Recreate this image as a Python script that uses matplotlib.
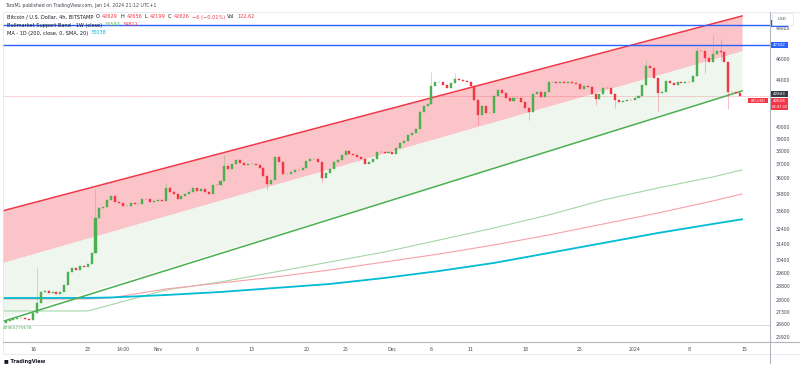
import numpy as np
import matplotlib.pyplot as plt
from matplotlib.patches import Rectangle
from matplotlib.lines import Line2D
from matplotlib.ticker import NullLocator

W, H = 800, 370

# 12h candles, closes
start = np.datetime64('2023-10-12T12:00')
first_open = 26700
closes = [
    26800, 26845, 26880, 26930, 26956, 26900, 26850, 27230, 27800, 28440,
    28470, 28380, 28410, 28320, 28440, 28850, 29640, 29880, 29760, 30000,
    29940, 30120, 30820, 33100, 33820, 33890, 34380, 34670, 34240, 34170,
    33960, 33990, 34170, 34100, 34130, 34450, 34420, 34240, 34310, 34380,
    34310, 35240, 34950, 34810, 34450, 34670, 34810, 34950, 35240, 35020,
    35170, 34950, 34810, 35460, 35430, 35750, 36880, 36650, 37030, 37340,
    37110, 36950, 37030, 37060, 36950, 36730, 36120, 35530, 35830, 37570,
    37180, 36270, 36300, 36420, 36575, 36540, 36730, 37260, 37410, 37440,
    37180, 35980, 36350, 36650, 37180, 37340, 37720, 38030, 37800, 37720,
    37570, 37410, 37030, 37180, 37410, 37960, 37930, 37880, 37960, 37800,
    38270, 38670, 38830, 39310, 39470, 39800, 41220, 41730, 41900, 43490,
    43850, 43880, 43580, 43310, 43760, 44120, 44030, 43940, 43850, 43490,
    42250, 40960, 41730, 41130, 41160, 42600, 43130, 42860, 42430, 42160,
    42430, 42400, 42080, 41560, 41220, 42780, 42950, 42510, 42950, 43850,
    43880, 43760, 43850, 43760, 43850, 43760, 43670, 43220, 43490, 43400,
    42780, 42340, 42780, 43310, 43280, 42780, 42250, 42080, 42160, 42250,
    42220, 42430, 42600, 43580, 45320, 45130, 44210, 42860, 42950, 43940,
    43760, 43580, 43850, 43760, 43850, 43820, 44400, 46740, 46700, 46080,
    45700, 46450, 46740, 46640, 45700, 42950, 42920, 42860, 42626,
]
# notable wicks: candle index, high, low
wick_idx = [8, 23, 41, 56, 67, 81, 109, 115, 121, 134, 151, 156, 164, 167, 177, 179, 181, 183, 185]
wick_hi = [29900, 35200, 35600, 37720, 35830, 37180, 44760, 44700, 42250, 41560, 42780, 42250, 45880, 44210, 47100, 46740, 48300, 47900, 45700]
wick_lo = [27230, 30820, 34950, 35750, 35100, 35680, 41900, 44030, 40120, 40540, 41800, 41550, 43580, 41300, 44400, 44700, 45700, 45900, 41500]

# channel drawing anchors (date, price)
ch_t = ['2023-10-12T01:30', '2024-01-14T18:00']
ch_top = [33611, 50244]
ch_mid = [30212, 46757]
ch_low_fill = [26960, 43045]
ch_bot_t = ['2023-10-11T21:00', '2024-01-14T18:00']
ch_bot = [26734, 43045]

# weekly band + 200D MA
ma_t = ['2023-10-11T20:00', '2023-10-19', '2023-10-23', '2023-10-26', '2023-11-02', '2023-11-09',
        '2023-11-16', '2023-11-23', '2023-11-30', '2023-12-07', '2023-12-14', '2023-12-21',
        '2023-12-28', '2024-01-04', '2024-01-11', '2024-01-14T18:00']
ma200 = [28090, 28090, 28095, 28120, 28264, 28440, 28676, 28914, 29275, 29699, 30195, 30821,
         31464, 32120, 32721, 33038]
band_ema = [27348, 27348, 27350, 27700, 28559, 29033, 29637, 30254, 30886, 31658, 32453, 33333,
            34382, 35242, 36050, 36583]
band_sma = [28033, 28033, 28033, 28100, 28616, 28973, 29334, 29760, 30254, 30759, 31335, 31988,
            32721, 33470, 34311, 34811]

hlines = [49320, 47342]
last_price = 42626
range_line = 26569

yticks = [25920, 26600, 27300, 28000, 28800, 29600, 30400, 31400, 32400, 33600, 34800,
          36000, 37000, 38000, 39000, 40000, 44000, 46000, 49000]
xtick_t = ['2023-10-16', '2023-10-23', '2023-10-27T14:00', '2023-11-01', '2023-11-06',
           '2023-11-13', '2023-11-20', '2023-11-25', '2023-12-01', '2023-12-06', '2023-12-11',
           '2023-12-18', '2023-12-25', '2024-01-01', '2024-01-08', '2024-01-15']
xtick_lab = ['16', '23', '14:00', 'Nov', '6', '13', '20', '25', 'Dec', '6', '11', '18', '25',
             '2024', '8', '15']

UP, DN = '#4caf50', '#f23645'
BLUE = '#2962ff'
CYAN = '#00bcd4'
TXT = '#434651'
DARK = '#131722'

plt.rcParams['font.family'] = ['DejaVu Sans']


def fx(px):
    return px / W


def fy(py):
    return 1 - py / H


fig = plt.figure(figsize=(8, 3.7), dpi=100)
L, T, R, B = 3, 12, 770, 342
ax = fig.add_axes([fx(L), fy(B), (R - L) / W, (B - T) / H])
ax.set_yscale('log')
ax.set_ylim(25653, 50659)
ax.set_xlim(np.datetime64('2023-10-12T03:52'), np.datetime64('2024-01-18T07:55'))
for s in ax.spines.values():
    s.set_visible(False)

# channel fills and lines
t0, t1 = np.array(ch_t, dtype='datetime64[m]')
tb = np.array(ch_bot_t, dtype='datetime64[m]')
ax.fill_between([t0, t1], ch_mid, ch_top, color='#fbc4c9', lw=0, zorder=1)
ax.fill_between([t0, t1], ch_low_fill, ch_mid, color='#eef6ee', lw=0, zorder=1)
ax.plot([t0, t1], ch_top, color=DN, lw=1.1, zorder=4)
ax.plot(tb, ch_bot, color=UP, lw=1.1, zorder=4)

# moving averages
mt = np.array(ma_t, dtype='datetime64[m]')
ax.plot(mt, band_ema, color='#a5d6a7', lw=0.8, zorder=2)
ax.plot(mt, band_sma, color='#f7a1a8', lw=0.8, zorder=2)
ax.plot(mt, ma200, color=CYAN, lw=1.3, zorder=2)

# horizontal lines
for v in hlines:
    ax.axhline(v, color=BLUE, lw=1.0, zorder=4)
ax.axhline(last_price, color=DN, lw=0.6, ls=(0, (1, 1)), alpha=0.5, zorder=2)
ax.axhline(range_line, color='#d1d4dc', lw=0.6, zorder=2)

# candles
n = len(closes)
ct = start + np.arange(n) * np.timedelta64(12, 'h')
opens = [first_open] + closes[:-1]
for i in range(n):
    o, c = opens[i], closes[i]
    col = UP if c >= o else DN
    ax.bar(ct[i], c - o, bottom=o, width=0.26, color=col, edgecolor=col, lw=0.3, zorder=5)
for i, hi, lo in zip(wick_idx, wick_hi, wick_lo):
    col = UP if closes[i] >= opens[i] else DN
    ax.vlines(ct[i], lo, hi, color=col, lw=0.5, alpha=0.45, zorder=4)

# axes ticks
ax.yaxis.set_minor_locator(NullLocator())
ax.yaxis.tick_right()
ax.set_yticks(yticks)
ax.set_yticklabels([str(v) for v in yticks])
ax.tick_params(axis='y', length=0, pad=4, labelsize=3.3, labelcolor=TXT)
ax.set_xticks(np.array(xtick_t, dtype='datetime64[m]'))
ax.set_xticklabels(xtick_lab)
ax.tick_params(axis='x', length=0, pad=3.5, labelsize=3.3, labelcolor=TXT)

# frame lines
fig.add_artist(Line2D([fx(L), fx(800)], [fy(B), fy(B)], color='#b2b5be', lw=0.8))
fig.add_artist(Line2D([fx(R), fx(R)], [fy(T), fy(363)], color='#b2b5be', lw=0.8))
fig.add_artist(Rectangle((fx(L), fy(354)), (800 - L) / W, (354 - T) / H, fill=False,
                         ec='#e0e3eb', lw=0.5))


def label_box(py, h, text, fc, tc='white', x0=771, w=17, sub=None):
    fig.add_artist(Rectangle((fx(x0), fy(py + h / 2)), w / W, h / H, color=fc, lw=0, zorder=6))
    ty = py if sub is None else py - 2.5
    fig.text(fx(x0 + w / 2), fy(ty), text, color=tc, fontsize=3.0, ha='center', va='center',
             zorder=7)
    if sub:
        fig.text(fx(x0 + w / 2), fy(py + 3), sub, color=tc, fontsize=2.6, ha='center',
                 va='center', zorder=7)


label_box(23.5, 7, '49320', BLUE)
fig.add_artist(Rectangle((fx(772), fy(25)), 21 / W, 12 / H, fc='white', ec='#e0e3eb', lw=0.5,
                         zorder=8))
fig.text(fx(782.5), fy(19), 'USD', fontsize=3.0, color=TXT, ha='center', va='center', zorder=9)
label_box(45, 6, '47342', BLUE)
label_box(94, 6, '42843', '#363a45')
label_box(104, 12, '42626', DN, sub='03:47:02')
fig.add_artist(Rectangle((fx(748), fy(103)), 20 / W, 5 / H, color=DN, lw=0, zorder=6))
fig.text(fx(758), fy(100.5), 'BTCUSD', color='white', fontsize=2.6, ha='center', va='center',
         zorder=7)

# title and legend
fig.text(fx(5), fy(6), 'TaroML published on TradingView.com, Jan 14, 2024 21:12 UTC+1',
         fontsize=3.35, color=TXT, va='center')


def legend_row(py, parts):
    prev = None
    for txt, col in parts:
        if prev is None:
            prev = fig.text(fx(7), fy(py), txt, fontsize=3.6, color=col, va='center', zorder=9)
        else:
            prev = ax.annotate(txt, xy=(1, 0), xycoords=prev, xytext=(1.7, 0),
                               textcoords='offset points', fontsize=3.6, color=col,
                               va='bottom', annotation_clip=False, zorder=9)


legend_row(17, [('Bitcoin / U.S. Dollar, 4h, BITSTAMP', DARK), ('O', DARK),
                ('42629', DN), ('H', DARK), ('42656', DN), ('L', DARK),
                ('42199', DN), ('C', DARK), ('42626', DN), ('\u22126 (\u22120.01%)', DN),
                ('Vol', DARK), ('122.62', DN)])
legend_row(25, [('Bullmarket Support Band - 1W (close)', DARK), ('36583', '#66bb6a'),
                ('34811', DN)])
legend_row(33, [('MA - 1D (200, close, 0, SMA, 20)', DARK), ('33038', CYAN)])

fig.text(fx(3), fy(328), '40965779678', fontsize=3.1, color=UP, va='center')
fig.text(fx(4), fy(362), '\u25a0 TradingView', fontsize=3.6, color=DARK, va='center',
         fontweight='bold')

fig.savefig('out.png', dpi=100)
